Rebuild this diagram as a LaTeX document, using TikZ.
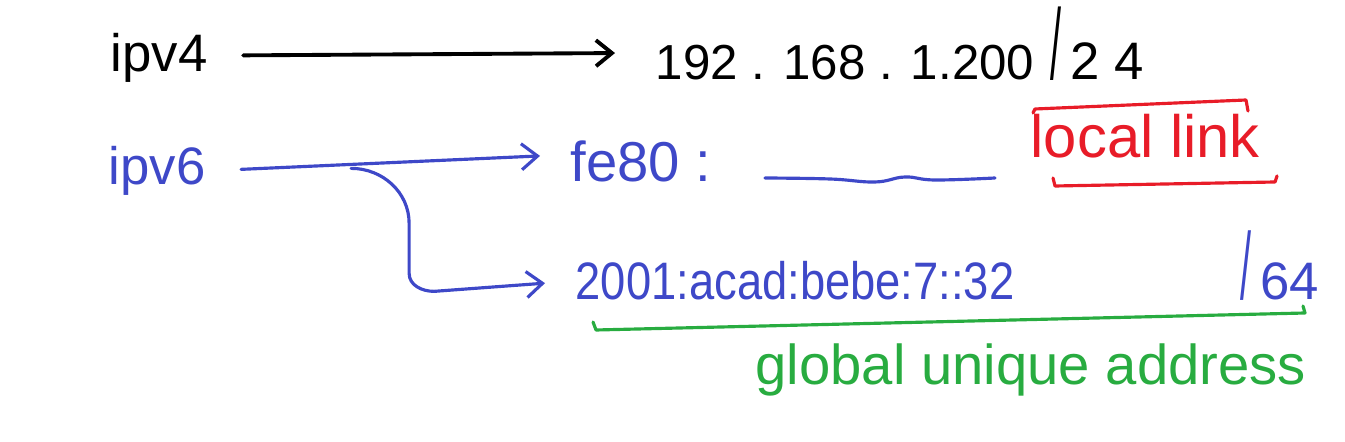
\documentclass[tikz,border=0pt]{standalone}
\usepackage{fontspec}
\usepackage{graphicx}
\setmainfont{Liberation Sans}
\newfontfamily\narrowfont[FakeStretch=0.86]{Liberation Sans}
\usetikzlibrary{arrows.meta,positioning,calc}
\definecolor{inkblue}{RGB}{62,72,200}
\definecolor{inkred}{RGB}{232,28,40}
\definecolor{inkgreen}{RGB}{40,172,64}
\newcommand{\tallslash}[1]{\scalebox{0.75}[#1]{/}}
\begin{document}
\begin{tikzpicture}[
    label4/.style={anchor=base west, inner sep=0pt, font=\fontsize{15}{15}\selectfont},
    label6/.style={anchor=base west, inner sep=0pt, text=inkblue, font=\fontsize{15}{15}\selectfont},
    hand/.style={line width=1.1pt, line cap=round, line join=round},
    tip/.style={-{Straight Barb[length=1.6mm,width=2.6mm]}}
  ]
        \useasboundingbox (0,0) rectangle (13.45,4.42);

        % IPv4 row
        \node[label4] (ipv4) at (1.10,3.70) {ipv4};
        \node[label4, font=\fontsize{14}{14}\selectfont] (addr4) at (6.55,3.62) {192 . 168 . 1.200};
        \node[label4] (mask4) at (10.50,3.62) {\tallslash{1.9}\,2 4};
        \draw[hand, tip] ($(ipv4.east)+(0.35,0.03)$) -- ($(addr4.west)+(-0.40,0.10)$);

        % IPv6 row
        \node[label6] (ipv6) at (1.08,2.57) {ipv6};
        \node[label6, font=\fontsize{16}{16}\selectfont] (ll) at (5.70,2.60) {fe80 :};
        \node[label6, font=\narrowfont\fontsize{15}{15}\selectfont] (gua) at (5.75,1.42) {2001:acad:bebe:7::32};
        \node[label6] (mask6) at (12.40,1.42) {\tallslash{1.8}\,64};

        % wavy rest of the link-local address
        \draw[hand, inkblue, line width=0.9pt] plot[smooth, tension=0.7] coordinates {(7.65,2.64) (8.3,2.63) (8.75,2.60) (9.05,2.65) (9.35,2.62) (9.95,2.64)};

        % connectors from ipv6
        \draw[hand, inkblue, line width=0.9pt, tip] ($(ipv6.east)+(0.35,0.02)$) -- ($(ll.west)+(-0.30,0.06)$);
        \draw[hand, inkblue, line width=0.9pt, tip] ($(ipv6.east)+(1.45,0.03)$) to[out=0,in=90] ++(0.58,-0.55)
            -- ++(0,-0.50) to[out=-90,in=180] ++(0.25,-0.18) -- ($(gua.west)+(-0.30,-0.02)$);

        % local link bracket box
        \node[anchor=base west, inner sep=0pt, text=inkred, font=\fontsize{17}{17}\selectfont] (lltext) at (10.30,2.84) {local link};
        \draw[hand, inkred, line width=0.9pt] (10.33,3.29) -- (10.35,3.33) -- (12.46,3.42) -- (12.48,3.31);
        \draw[hand, inkred, line width=0.9pt] (10.53,2.64) -- (10.55,2.56) -- (12.75,2.60) -- (12.77,2.66);

        % global unique underline
        \draw[hand, inkgreen, line width=0.9pt] (5.93,1.20) -- (5.96,1.12) -- (13.05,1.29) -- (13.03,1.36);
        \node[anchor=base west, inner sep=0pt, text=inkgreen, font=\fontsize{16}{16}\selectfont] (gualabel) at (7.55,0.57) {global unique address};
    \end{tikzpicture}
\end{document}
